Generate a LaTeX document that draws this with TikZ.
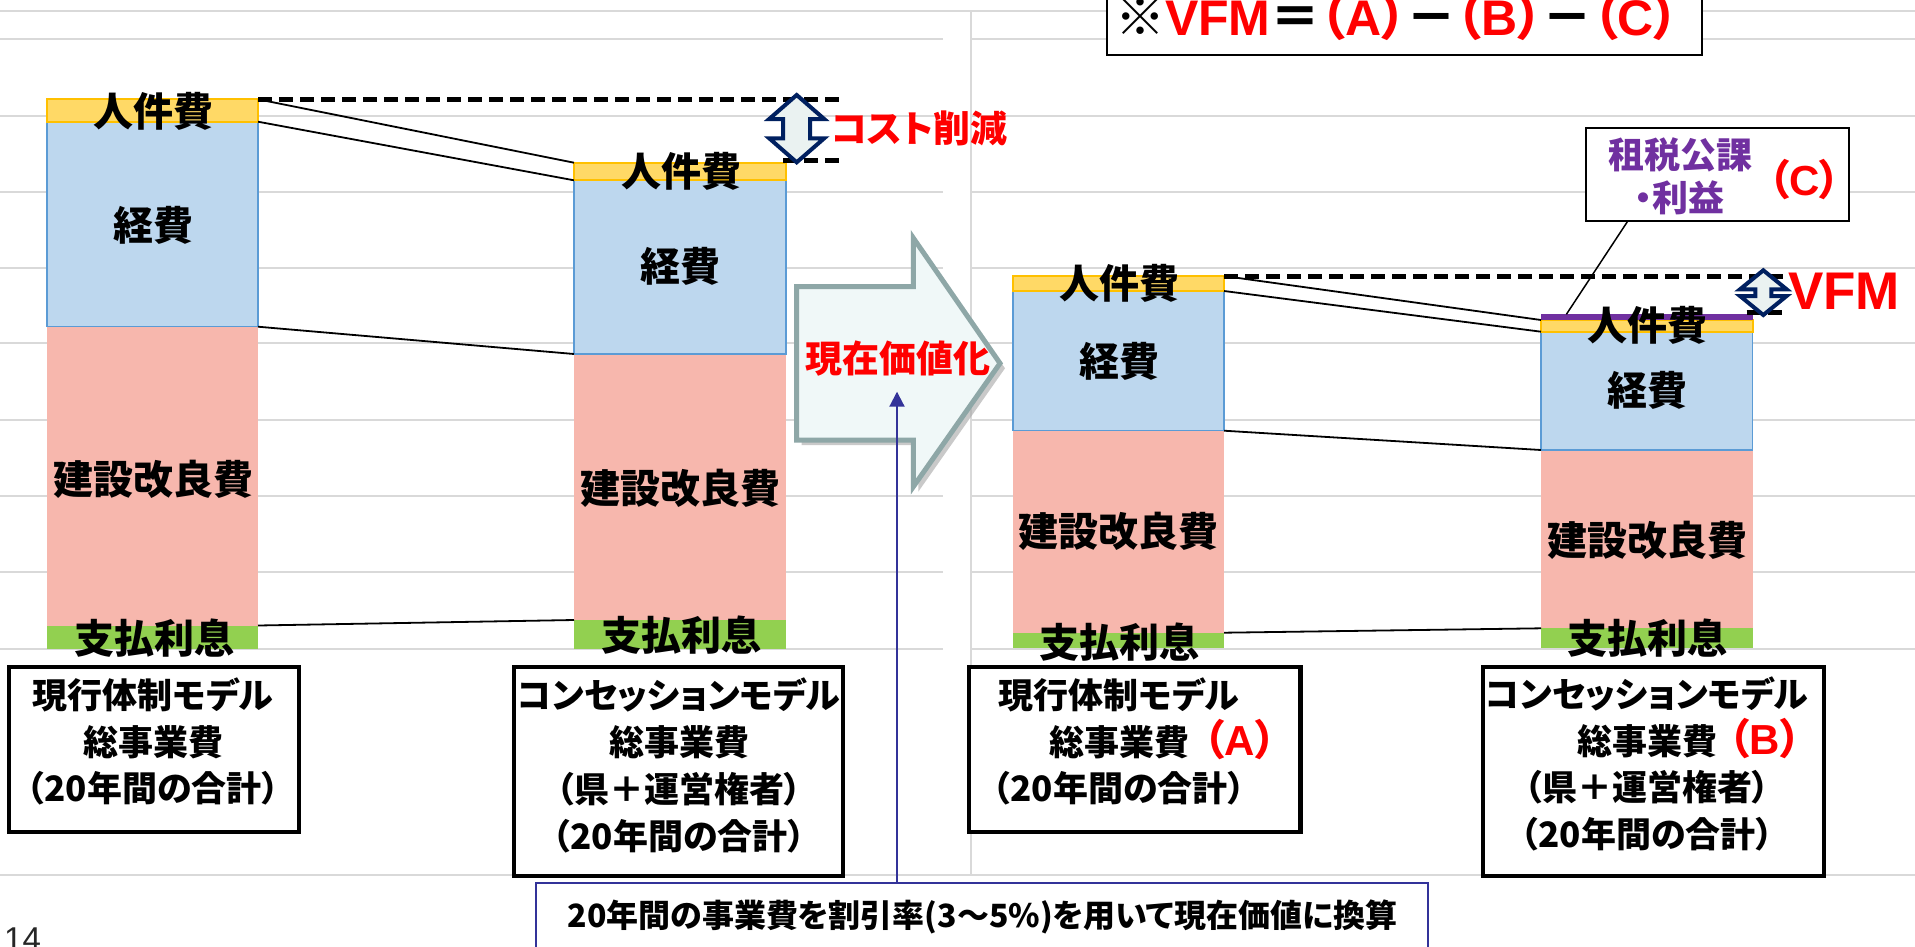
\documentclass[tikz,border=0pt]{standalone}
\usepackage{fontspec}
\newfontfamily\jpf{Noto Sans CJK JP}[RawFeature=+palt]
\newfontfamily\lsf{Liberation Sans}
\usetikzlibrary{calc,arrows.meta}
\definecolor{gridc}{HTML}{D9D9D9}
\definecolor{yellowc}{HTML}{FFD966}
\definecolor{yellowb}{HTML}{FFC000}
\definecolor{bluec}{HTML}{BDD7EE}
\definecolor{blueb}{HTML}{5B9BD5}
\definecolor{pinkc}{HTML}{F7B7AD}
\definecolor{greenc}{HTML}{92D050}
\definecolor{purplec}{HTML}{7030A0}
\definecolor{redc}{HTML}{FF0000}
\definecolor{navyc}{HTML}{002060}
\definecolor{arrfill}{HTML}{EAF2F1}
\definecolor{blockb}{HTML}{8EA7A7}
\definecolor{blockf}{HTML}{F0F8F8}
\definecolor{noteb}{HTML}{333399}
\newcommand{\segnode}[6]{%
  \pgfmathsetmacro\segW{#4-#2}%
  \pgfmathsetmacro\segH{#5-#3}%
  \pgfmathsetmacro\segX{(#2+#4)/2}%
  \pgfmathsetmacro\segY{(#3+#5)/2}%
  \node[seg,#6,minimum width=\segW pt,minimum height=\segH pt] (#1) at (\segX,\segY) {};%
}
\newcommand{\latb}[1]{{\lsf\bfseries #1}}
\newcommand{\redmark}[2]{\rlap{\hspace{#1}\textcolor{redc}{\fontsize{42}{46.7}\selectfont （\latb{#2}）}}}
\tikzset{
  seg/.style={rectangle, inner sep=0pt, outer sep=0pt},
  pinkseg/.style={fill=pinkc},
  greenseg/.style={fill=greenc},
  blueseg/.style={fill=bluec, draw=blueb, line width=1.5pt},
  yellowseg/.style={fill=yellowc, draw=yellowb, line width=2pt},
  purpleseg/.style={fill=purplec},
  grd/.style={draw=gridc, line width=2pt},
  lbl/.style={font=\jpf\bfseries\fontsize{40}{48}\selectfont, inner sep=0pt},
  boxtxt/.style={font=\jpf\bfseries\fontsize{35}{46.7}\selectfont, align=center, inner sep=0pt},
  redtxt/.style={font=\jpf\bfseries\fontsize{42}{50}\selectfont, text=redc, inner sep=0pt},
  mbox/.style={rectangle, draw=black, line width=4.5pt, fill=white, inner sep=0pt},
  conn/.style={draw=black, line width=1.8pt},
  cutline/.style={draw=black, line width=5pt, dash pattern=on 14pt off 7pt},
  udarr/.style={draw=navyc, line width=4pt, fill=arrfill, line join=miter},
  blockarr/.style={draw=blockb, line width=5pt, fill=blockf, line join=miter}
}
\begin{document}
\begin{tikzpicture}[x=1pt,y=-1pt]
\useasboundingbox (0,0) rectangle (1915,946);
\clip (0,0) rectangle (1915,946);
\fill[white] (0,0) rectangle (1915,946);
% grid lines
\foreach \gy in {39,115.7,191.7,267.7,343.3,420,495.7,572.3,649} {
  \draw[grd] (0,\gy) -- (943,\gy);
  \draw[grd] (972,\gy) -- (1915,\gy);
}
\draw[grd] (0,10.5) -- (1915,10.5);
\draw[grd] (0,875) -- (1915,875);
\draw[grd] (971,10.5) -- (971,875);
% block arrow
\fill[black!35, opacity=0.6] (801.7,291.7) -- (918.3,291.7) -- (918.3,243) -- (1005,368.3) -- (918.3,491.7) -- (918.3,445) -- (801.7,445) -- cycle;
\draw[blockarr] (796.7,286.7) -- (913.3,286.7) -- (913.3,238) -- (1000,363.3) -- (913.3,486.7) -- (913.3,440) -- (796.7,440) -- cycle;
\node[font=\jpf\bfseries\fontsize{37}{44}\selectfont, text=redc, inner sep=0pt] (pv) at (897.5,358.3) {現在価値化};
% bar 1
\segnode{b1p}{47}{326.7}{258}{625.5}{pinkseg}
\segnode{b1g}{47}{625.5}{258}{648.5}{greenseg}
\segnode{b1b}{47}{121.7}{258}{326.7}{blueseg}
\segnode{b1y}{47}{99.3}{258}{121.7}{yellowseg}
% bar 2
\segnode{b2p}{574}{354}{786}{620}{pinkseg}
\segnode{b2g}{574}{620}{786}{648.5}{greenseg}
\segnode{b2b}{574}{180.3}{786}{354}{blueseg}
\segnode{b2y}{574}{162.7}{786}{180.3}{yellowseg}
% bar 3
\segnode{b3p}{1013}{430.7}{1224}{632.7}{pinkseg}
\segnode{b3g}{1013}{632.7}{1224}{647.5}{greenseg}
\segnode{b3b}{1013}{291}{1224}{430.7}{blueseg}
\segnode{b3y}{1013}{276}{1224}{291}{yellowseg}
% bar 4
\segnode{b4p}{1541}{450}{1752.5}{628.3}{pinkseg}
\segnode{b4g}{1541}{628.3}{1752.5}{647.5}{greenseg}
\segnode{b4b}{1541}{331.7}{1752.5}{450}{blueseg}
\segnode{b4y}{1541}{320}{1752.5}{331.7}{yellowseg}
\segnode{b4u}{1541}{314.3}{1752.5}{320}{purpleseg}
% connectors between bars
\draw[conn] (b1y.north east) -- (b2y.north west);
\draw[conn] (b1b.north east) -- (b2b.north west);
\draw[conn] (b1p.north east) -- (b2p.north west);
\draw[conn] (b1g.north east) -- (b2g.north west);
\draw[conn] (b3y.north east) -- (b4y.north west);
\draw[conn] (b3b.north east) -- (b4b.north west);
\draw[conn] (b3p.north east) -- (b4p.north west);
\draw[conn] (b3g.north east) -- (b4g.north west);
% dashed level lines
\coordinate (cutEnd) at (845,0);
\coordinate (vfmEnd) at (1783,0);
\draw[cutline] (b1y.north east) -- (b1y.north east -| cutEnd);
\draw[cutline] (783,160) -- (cutEnd |- 0,160);
\draw[cutline] (b3y.north east) -- (b3y.north east -| vfmEnd);
\draw[cutline] (1746.7,312.3) -- (vfmEnd |- 0,312.3);
% up-down arrows
\draw[udarr] (796.7,95) -- (824.2,119) -- (810.2,119) -- (810.2,138.3) -- (824.2,138.3) -- (796.7,162.3) -- (769.2,138.3) -- (783.2,138.3) -- (783.2,119) -- (769.2,119) -- cycle;
\draw[udarr] (1763.3,270.3) -- (1786.6,289.3) -- (1771.3,289.3) -- (1771.3,296) -- (1786.6,296) -- (1763.3,315) -- (1740,296) -- (1755.3,296) -- (1755.3,289.3) -- (1740,289.3) -- cycle;
\node[font=\jpf\bfseries\fontsize{37}{44}\selectfont, text=redc, anchor=west, inner sep=0pt] (cut) at (831,128.3) {コスト削減};
\node[font=\lsf\bfseries\fontsize{53}{60}\selectfont, text=redc, anchor=west, inner sep=0pt] (vfm) at (1788,291.7) {VFM};
% bar labels
\node[lbl] (l1y) at (153,111.7) {人件費};
\node[lbl] (l1b) at (153,225) {経費};
\node[lbl] (l1p) at (153,479) {建設改良費};
\node[lbl] (l1g) at (154,638) {支払利息};
\node[lbl] (l2y) at (681,171.7) {人件費};
\node[lbl] (l2b) at (680,266.7) {経費};
\node[lbl] (l2p) at (680,488.3) {建設改良費};
\node[lbl] (l2g) at (681,635) {支払利息};
\node[lbl] (l3y) at (1119,283.3) {人件費};
\node[lbl] (l3b) at (1119,361.7) {経費};
\node[lbl] (l3p) at (1118.5,531.7) {建設改良費};
\node[lbl] (l3g) at (1119,641.7) {支払利息};
\node[lbl] (l4y) at (1647,325) {人件費};
\node[lbl] (l4b) at (1647,390) {経費};
\node[lbl] (l4p) at (1647,540) {建設改良費};
\node[lbl] (l4g) at (1647.6,638.3) {支払利息};
% model boxes
\node[mbox, minimum width=290pt, minimum height=165pt] (box1) at (154,749.5) {};
\node[boxtxt] (t1) at (153,741.7) {現行体制モデル\\総事業費\\（20年間の合計）};
\node[mbox, minimum width=329pt, minimum height=209pt] (box2) at (678.5,771.5) {};
\node[boxtxt] (t2) at (679,765.4) {コンセッションモデル\\総事業費\\（県＋運営権者）\\（20年間の合計）};
\node[mbox, minimum width=331.5pt, minimum height=165pt] (box3) at (1134.75,749.5) {};
\node[boxtxt] (t3) at (1119,741.7) {現行体制モデル\\総事業費\redmark{14.7pt}{A}\\（20年間の合計）};
\node[mbox, minimum width=341pt, minimum height=209pt] (box4) at (1653.5,771.5) {};
\node[boxtxt] (t4) at (1647,764) {コンセッションモデル\\総事業費\redmark{11.8pt}{B}\\（県＋運営権者）\\（20年間の合計）};
% note box and arrow
\node[rectangle, draw=noteb, line width=2pt, fill=white, minimum width=892.4pt, minimum height=100pt, inner sep=0pt] (note) at (982.2,933.3) {};
\node[font=\jpf\bfseries\fontsize{32}{38}\selectfont, inner sep=0pt] (notet) at (982.5,916.7) {20年間の事業費を割引率(3～5\%)を用いて現在価値に換算};
\coordinate (pvtip) at (897,391.7);
\draw[noteb, line width=2pt, -{Triangle[length=15pt,width=15pt]}] (note.north -| pvtip) -- (pvtip);
% formula box
\node[rectangle, draw=black, line width=2pt, fill=white, minimum width=595pt, minimum height=85pt, inner sep=0pt] (fbox) at (1404,12.5) {};
\node[font=\jpf\bfseries\fontsize{50}{60}\selectfont, anchor=base, inner sep=0pt] (ftxt) at (1397,35) {※\textcolor{redc}{\latb{VFM}}＝\textcolor{redc}{（\latb{A}）}－\textcolor{redc}{（\latb{B}）}－\textcolor{redc}{（\latb{C}）}};
% callout
\node[rectangle, draw=black, line width=2pt, fill=white, minimum width=263.3pt, minimum height=93.3pt, inner sep=0pt] (callout) at (1717.4,174.3) {};
\node[font=\jpf\bfseries\fontsize{36}{44}\selectfont, text=purplec, inner sep=0pt] (ct1) at (1680.5,155) {租税公課};
\node[font=\jpf\bfseries\fontsize{36}{44}\selectfont, text=purplec, inner sep=0pt] (ct2) at (1679,198) {・利益};
\node[redtxt] (ctc) at (1804.5,180) {（\latb{C}）};
\draw[black, line width=1.5pt] ($(callout.south west)!0.16!(callout.south east)$) -- ($(b4u.north west)!0.12!(b4u.north east)$);
% page number
\node[font=\lsf\fontsize{33}{40}\selectfont, text=black!85, anchor=base west, inner sep=0pt] (pg) at (4,950) {14};
\end{tikzpicture}
\end{document}
